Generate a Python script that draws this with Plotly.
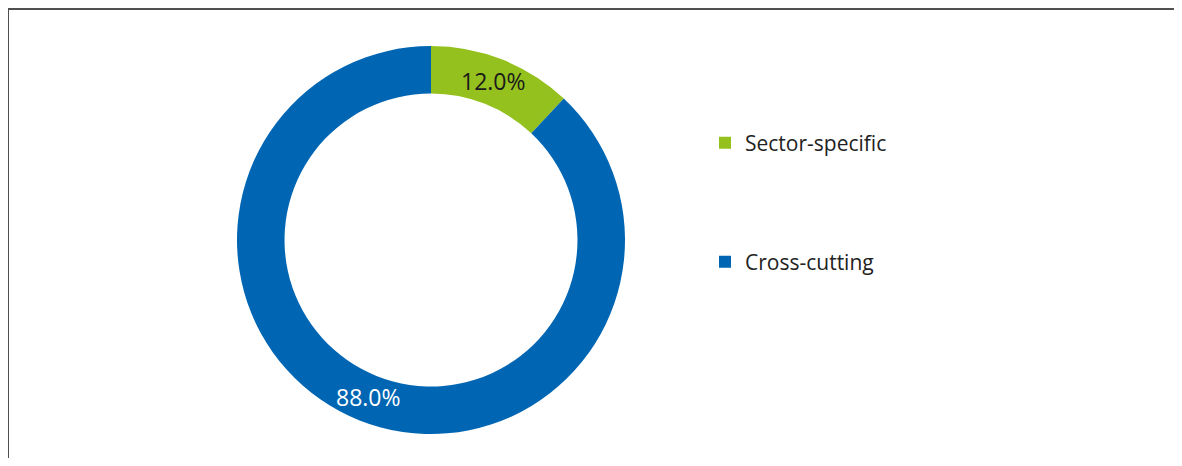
import math
import plotly.graph_objects as go

categories = ["Sector-specific", "Cross-cutting"]
values = [12.0, 88.0]
colors = ["#95C11F", "#0066B3"]
text_colors = ["#1a1a1a", "#ffffff"]

# the page body adds an 8px margin; the figure is sized so the page does not overflow
W, H = 1166, 450
cx, cy, R = 423, 232, 194
HOLE = 0.755
FONT = "Open Sans"


def px_x(v):
    return v / W


def px_y(v):
    return 1 - v / H


fig = go.Figure()
fig.add_trace(go.Pie(
    labels=categories,
    values=values,
    hole=HOLE,
    sort=False,
    direction="clockwise",
    rotation=0,
    marker=dict(colors=colors, line=dict(width=0)),
    textinfo="none",
    showlegend=False,
    hoverinfo="label+percent",
    domain=dict(x=[px_x(cx - R), px_x(cx + R)], y=[px_y(cy + R), px_y(cy - R)]),
))

# percentage labels placed at the middle of each ring segment
total = sum(values)
r_mid = R * (1 + HOLE) / 2
cum = 0.0
annotations = []
for v, tc in zip(values, text_colors):
    mid = (cum + v / 2) / total * 2 * math.pi
    cum += v
    x = cx + r_mid * math.sin(mid)
    y = cy - r_mid * math.cos(mid) - 1
    annotations.append(dict(
        x=px_x(x), y=px_y(y), xref="paper", yref="paper",
        text=f"{v / total * 100:.1f}%", showarrow=False,
        xanchor="center", yanchor="middle",
        font=dict(family=FONT, size=23, color=tc),
    ))

legend_y = [135, 254]
for i, (name, col) in enumerate(zip(categories, colors)):
    fig.add_trace(go.Scatter(
        x=[None], y=[None], mode="markers", name=name,
        marker=dict(symbol="square", size=12, color=col),
        legend="legend" if i == 0 else "legend2",
        showlegend=True,
    ))

leg_common = dict(
    font=dict(family=FONT, size=21, color="#222222"),
    bgcolor="rgba(0,0,0,0)",
    xanchor="left", yanchor="middle",
    itemwidth=30,
)
fig.update_layout(
    legend=dict(x=px_x(697), y=px_y(legend_y[0]), **leg_common),
    legend2=dict(x=px_x(697), y=px_y(legend_y[1]), **leg_common),
)

fig.update_layout(
    width=W, height=H,
    margin=dict(l=0, r=0, t=0, b=0),
    paper_bgcolor="white", plot_bgcolor="white",
    xaxis=dict(visible=False), yaxis=dict(visible=False),
    annotations=annotations,
    shapes=[
        dict(type="line", xref="paper", yref="paper",
             x0=0, y0=px_y(1), x1=1, y1=px_y(1),
             line=dict(color="#505050", width=2)),
        dict(type="line", xref="paper", yref="paper",
             x0=px_x(0), y0=1, x1=px_x(0), y1=0,
             line=dict(color="#505050", width=2)),
    ],
)

fig.write_html("out.html")
